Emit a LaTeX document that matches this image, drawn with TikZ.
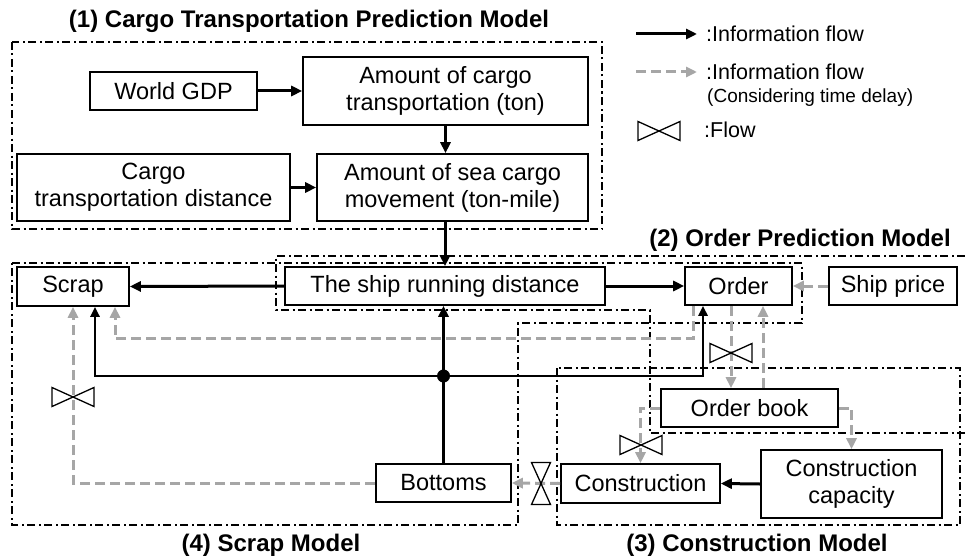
\documentclass[tikz,border=0pt]{standalone}
\usepackage{fontspec}
\setmainfont{Liberation Sans}
\usetikzlibrary{arrows.meta}
\definecolor{grayln}{HTML}{A6A6A6}
\begin{document}
\begin{tikzpicture}[x=1pt,y=-1pt,
  box/.style={draw, line width=1.6pt, inner sep=0pt, align=center, font=\fontsize{23.5}{27}\selectfont},
  blk/.style={line width=3pt, -{Triangle[length=11pt,width=10pt]}},
  blkline/.style={line width=2.8pt},
  gry/.style={draw=grayln, line width=3pt, dash pattern=on 10pt off 5pt, -{Triangle[length=11pt,width=10pt]}},
  region/.style={line width=1.4pt, dash pattern=on 8pt off 3.5pt on 2pt off 3.5pt},
  ttl/.style={font=\fontsize{24}{28}\selectfont\bfseries},
  leg/.style={anchor=west, inner sep=0pt, font=\fontsize{21.5}{24}\selectfont},
  valveh/.pic={\draw[line width=1.3pt, fill=white, solid] (-21,-9.5)--(-21,9.5)--(21,-9.5)--(21,9.5)--cycle;},
  valvev/.pic={\draw[line width=1.3pt, fill=white, solid] (-9.5,-21)--(9.5,-21)--(-9.5,21)--(9.5,21)--cycle;}
]
\useasboundingbox (0,0) rectangle (965,559);

% regions
\draw[region] (12,42) rectangle (602,229);
\draw[region] (965,256) -- (276,256) -- (276,310) -- (650,310) -- (650,433) -- (965,433);
\draw[region] (12,263) -- (802,263) -- (802,323) -- (518,323) -- (518,525) -- (12,525) -- cycle;
\draw[region] (557,368) rectangle (960,525);

% titles
\node[ttl] (t1) at (309,21) {(1) Cargo Transportation Prediction Model};
\node[ttl] (t2) at (800,240) {(2) Order Prediction Model};
\node[ttl] (t4) at (271,545) {(4) Scrap Model};
\node[ttl] (t3) at (757,545) {(3) Construction Model};

% nodes
\node[box, minimum width=167, minimum height=38] (gdp) at (173.5,91) {World GDP};
\node[box, minimum width=285, minimum height=68] (amt) at (445.5,91) {Amount of cargo\\transportation (ton)};
\node[box, minimum width=273, minimum height=67] (dist) at (153.5,187.5) {Cargo\\transportation distance};
\node[box, minimum width=271, minimum height=67] (sea) at (452.5,187.5) {Amount of sea cargo\\movement (ton-mile)};
\node[box, minimum width=320, minimum height=38] (ship) at (445,286) {The ship running distance};
\node[box, minimum width=107, minimum height=38] (order) at (738.5,286) {Order};
\node[box, minimum width=128, minimum height=38] (price) at (893,286) {Ship price};
\node[box, minimum width=112, minimum height=39] (scrap) at (73,286.5) {Scrap};
\node[box, minimum width=177, minimum height=38] (obook) at (749.5,408) {Order book};
\node[box, minimum width=159, minimum height=39] (constr) at (640.5,483.5) {Construction};
\node[box, minimum width=181, minimum height=68] (cap) at (851.5,484) {Construction\\capacity};
\node[box, minimum width=135, minimum height=38] (bottoms) at (443.5,483) {Bottoms};

% black information flows
\draw[blk] (gdp) -- (amt);
\draw[blk] (amt.south) -- (amt.south |- sea.north);
\draw[blk] (dist) -- (sea);
\draw[blk] (ship.north |- sea.south) -- (ship.north);
\draw[blk] (ship.east) -- (order.west);
\draw[blk] (ship.west) -- (scrap.east);
\coordinate (J) at (443.5,376);
\draw[blk] (bottoms.north) -- (bottoms.north |- ship.south);
\draw[blkline, -{Triangle[length=10pt,width=9pt]}] (J) -| ([xshift=22]scrap.south);
\draw[blkline, -{Triangle[length=10pt,width=9pt]}] (J) -| ([xshift=-35.5]order.south);
\fill (J) circle (6.5);
\draw[blk] (cap.west) -- (constr.east);

% gray information flows (time delay)
\draw[gry] ([xshift=-45.5]order.south) -- ++(0,33) -| ([xshift=42]scrap.south);
\draw[gry] ([xshift=-7.5]order.south) -- ([xshift=-7.5]order.south |- obook.north);
\draw[gry] ([xshift=24.5]order.south |- obook.north) -- ([xshift=24.5]order.south);
\draw[gry] (price.west) -- (order.east);
\draw[gry] (obook.west) -| (constr.north);
\draw[gry] (obook.east) -| (cap.north);
\draw[gry] (constr.west) -- (bottoms.east);
\draw[gry] (bottoms.west) -| (scrap.south);

% flow valves
\pic at (731,353) {valveh};
\pic at (641,445) {valveh};
\pic at (541,483.5) {valvev};
\pic at (73,397) {valveh};

% legend
\coordinate (l1a) at (636,34);
\coordinate (l1b) at (697,34);
\draw[blk] (l1a) -- (l1b);
\node[leg] (l1t) at (706,34) {:Information flow};
\coordinate (l2a) at (636,72);
\coordinate (l2b) at (697,72);
\draw[gry] (l2a) -- (l2b);
\node[leg] (l2t) at (706,72) {:Information flow};
\node[anchor=west, inner sep=0pt, font=\fontsize{19}{22}\selectfont] (l2s) at (707,98) {(Considering time delay)};
\pic at (659,131) {valveh};
\node[leg] (l3t) at (704,130) {:Flow};
\end{tikzpicture}
\end{document}
